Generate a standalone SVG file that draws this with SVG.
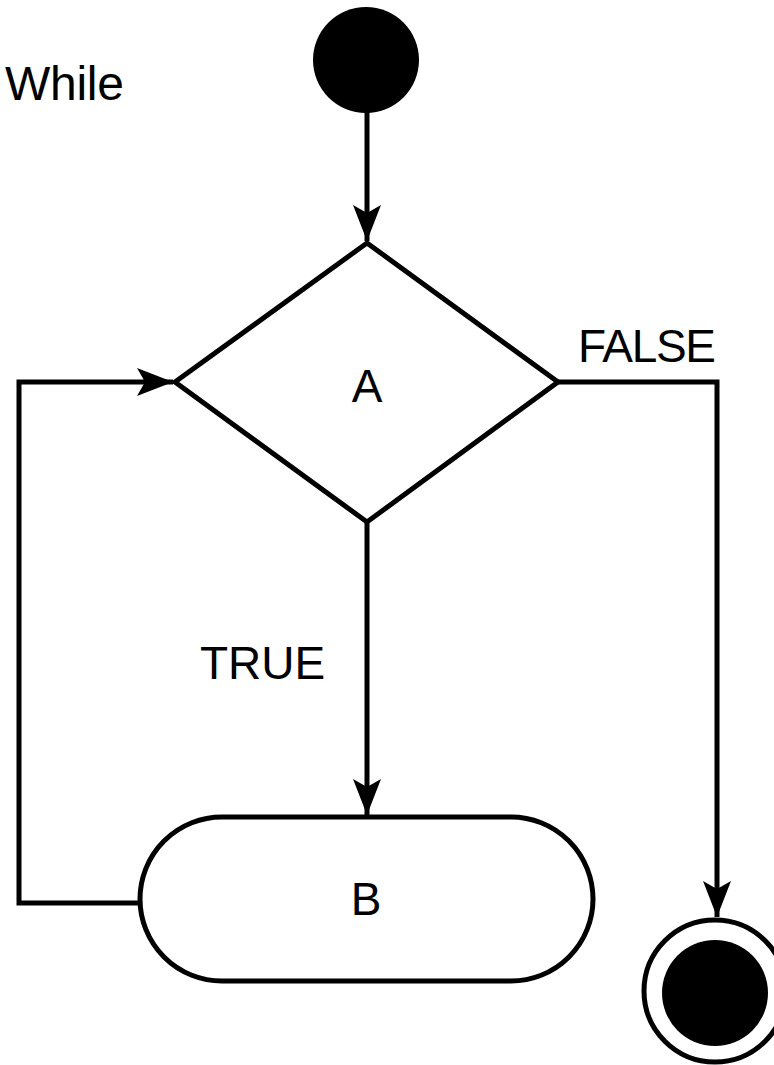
<svg xmlns="http://www.w3.org/2000/svg" width="774" height="1065" viewBox="0 0 774 1065">
<style>
.ln{fill:none;stroke:#000;stroke-width:5}
.sh{fill:#fff;stroke:#000;stroke-width:5}
.t{font-family:"Liberation Sans",Arial,sans-serif;font-size:46px;fill:#000}
</style>
<defs>
<marker id="ah" markerUnits="userSpaceOnUse" viewBox="0 0 36 28" refX="36" refY="14" markerWidth="36" markerHeight="28" orient="auto">
<path d="M0,0 L36,14 L0,28 L8,14 Z" fill="#000"/>
</marker>
</defs>
<text class="t" x="5" y="100" style="font-size:48px;letter-spacing:-0.3px">While</text>
<g id="connectors">
<path class="ln" d="M367,112 L367,241" marker-end="url(#ah)"/>
<path class="ln" d="M558,382 L717,382 L717,917" marker-end="url(#ah)"/>
<path class="ln" d="M367,522 L367,815" marker-end="url(#ah)"/>
<path class="ln" d="M140,903 L19,903 L19,382 L173,382" marker-end="url(#ah)"/>
</g>
<g id="start"><circle cx="366" cy="60" r="53" fill="#000"/></g>
<g id="A">
<polygon class="sh" points="367,243 558,382 367,522 175,382"/>
<text class="t" x="367" y="402" text-anchor="middle">A</text>
</g>
<g id="B">
<rect class="sh" x="140" y="817" width="453" height="164" rx="82" ry="82"/>
<text class="t" x="366" y="915" text-anchor="middle">B</text>
</g>
<g id="end">
<circle cx="715" cy="991" r="71" fill="#fff" stroke="#000" stroke-width="5"/>
<circle cx="715" cy="993" r="53" fill="#000"/>
</g>
<text class="t" x="200" y="679">TRUE</text>
<text class="t" x="578" y="362" style="letter-spacing:-1.3px">FALSE</text>
</svg>
